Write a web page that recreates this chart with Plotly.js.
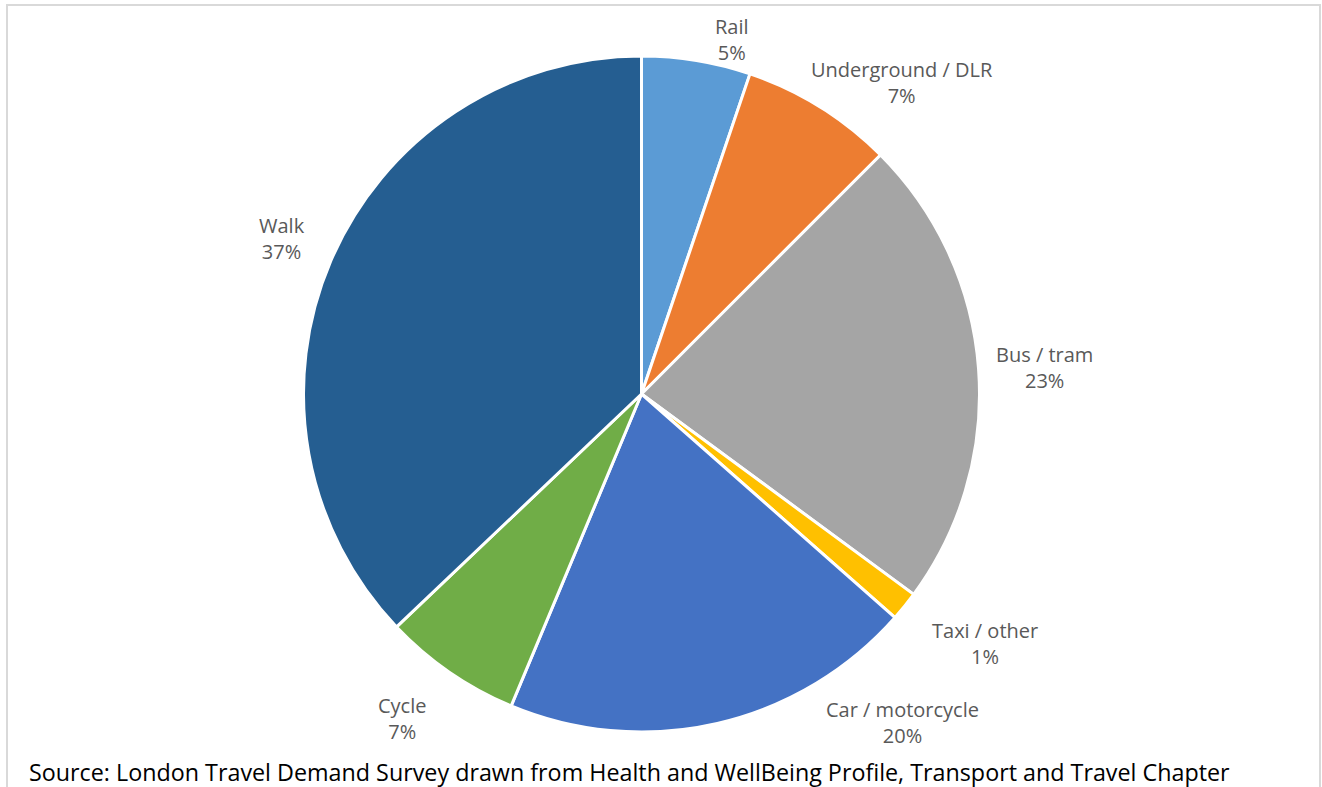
<!DOCTYPE html>
<html>
<head>
<meta charset="utf-8">
<script src="https://cdn.plot.ly/plotly-3.0.1.min.js"></script>
<style>
html,body{margin:0;padding:0;background:#fff;}
#frame{position:absolute;left:6px;top:4px;width:1315px;height:820px;border:2px solid #d9d9d9;box-sizing:border-box;}
#chart{position:absolute;left:0;top:0;width:1322px;height:787px;}
</style>
</head>
<body>
<div id="frame"></div>
<div id="chart"></div>
<script>
const categories = ["Rail", "Underground / DLR", "Bus / tram", "Taxi / other", "Car / motorcycle", "Cycle", "Walk"];
const shares = [5.2, 7.3, 22.6, 1.4, 19.8, 6.6, 37.1];
const colors = ["#5B9BD5", "#ED7D31", "#A5A5A5", "#FFC000", "#4472C4", "#70AD47", "#255E91"];
const sourceNote = "Source: London Travel Demand Survey drawn from Health and WellBeing Profile, Transport and Travel Chapter";

// label placement (layout only): distance from centre in px, angular nudge in degrees
const labelRadius = [366, 406, 404, 425, 420, 403, 392];
const labelNudge = [4.9, 8.1, 0.5, -2.9, -25.5, 1.9, 0.1];

const W = 1322, H = 787;
const margin = {l: 0, r: 39, t: 56, b: 55};
const plotW = W - margin.l - margin.r, plotH = H - margin.t - margin.b;

const total = shares.reduce((a, b) => a + b, 0);
let cum = 0;
const labelAnnotations = shares.map((v, i) => {
  const midDeg = (cum + v / 2) / total * 360 + labelNudge[i];
  cum += v;
  const a = midDeg * Math.PI / 180;
  const dx = labelRadius[i] * Math.sin(a);
  const dy = labelRadius[i] * Math.cos(a);
  return {
    text: categories[i] + "<br>" + Math.round(v / total * 100) + "%",
    xref: "paper", yref: "paper",
    x: 0.5 + dx / plotW, y: 0.5 + dy / plotH,
    xanchor: "center", yanchor: "middle",
    showarrow: false,
    font: {family: "Open Sans, sans-serif", size: 20, color: "#595959"}
  };
});

const trace = {
  type: "pie",
  labels: categories,
  values: shares,
  sort: false,
  direction: "clockwise",
  rotation: 0,
  marker: {colors: colors, line: {color: "#ffffff", width: 3}},
  textinfo: "none",
  automargin: false,
  showlegend: false,
  hoverinfo: "label+percent"
};

const layout = {
  width: W,
  height: H,
  margin: margin,
  paper_bgcolor: "rgba(0,0,0,0)",
  plot_bgcolor: "rgba(0,0,0,0)",
  showlegend: false,
  annotations: labelAnnotations.concat([{
    text: sourceNote,
    xref: "paper", yref: "paper",
    x: 0, y: 0,
    xshift: 27, yshift: -40,
    xanchor: "left", yanchor: "middle",
    showarrow: false,
    font: {family: "Open Sans, sans-serif", size: 23.3, color: "#000000"}
  }])
};

Plotly.newPlot("chart", [trace], layout, {displayModeBar: false, staticPlot: true});
</script>
</body>
</html>
